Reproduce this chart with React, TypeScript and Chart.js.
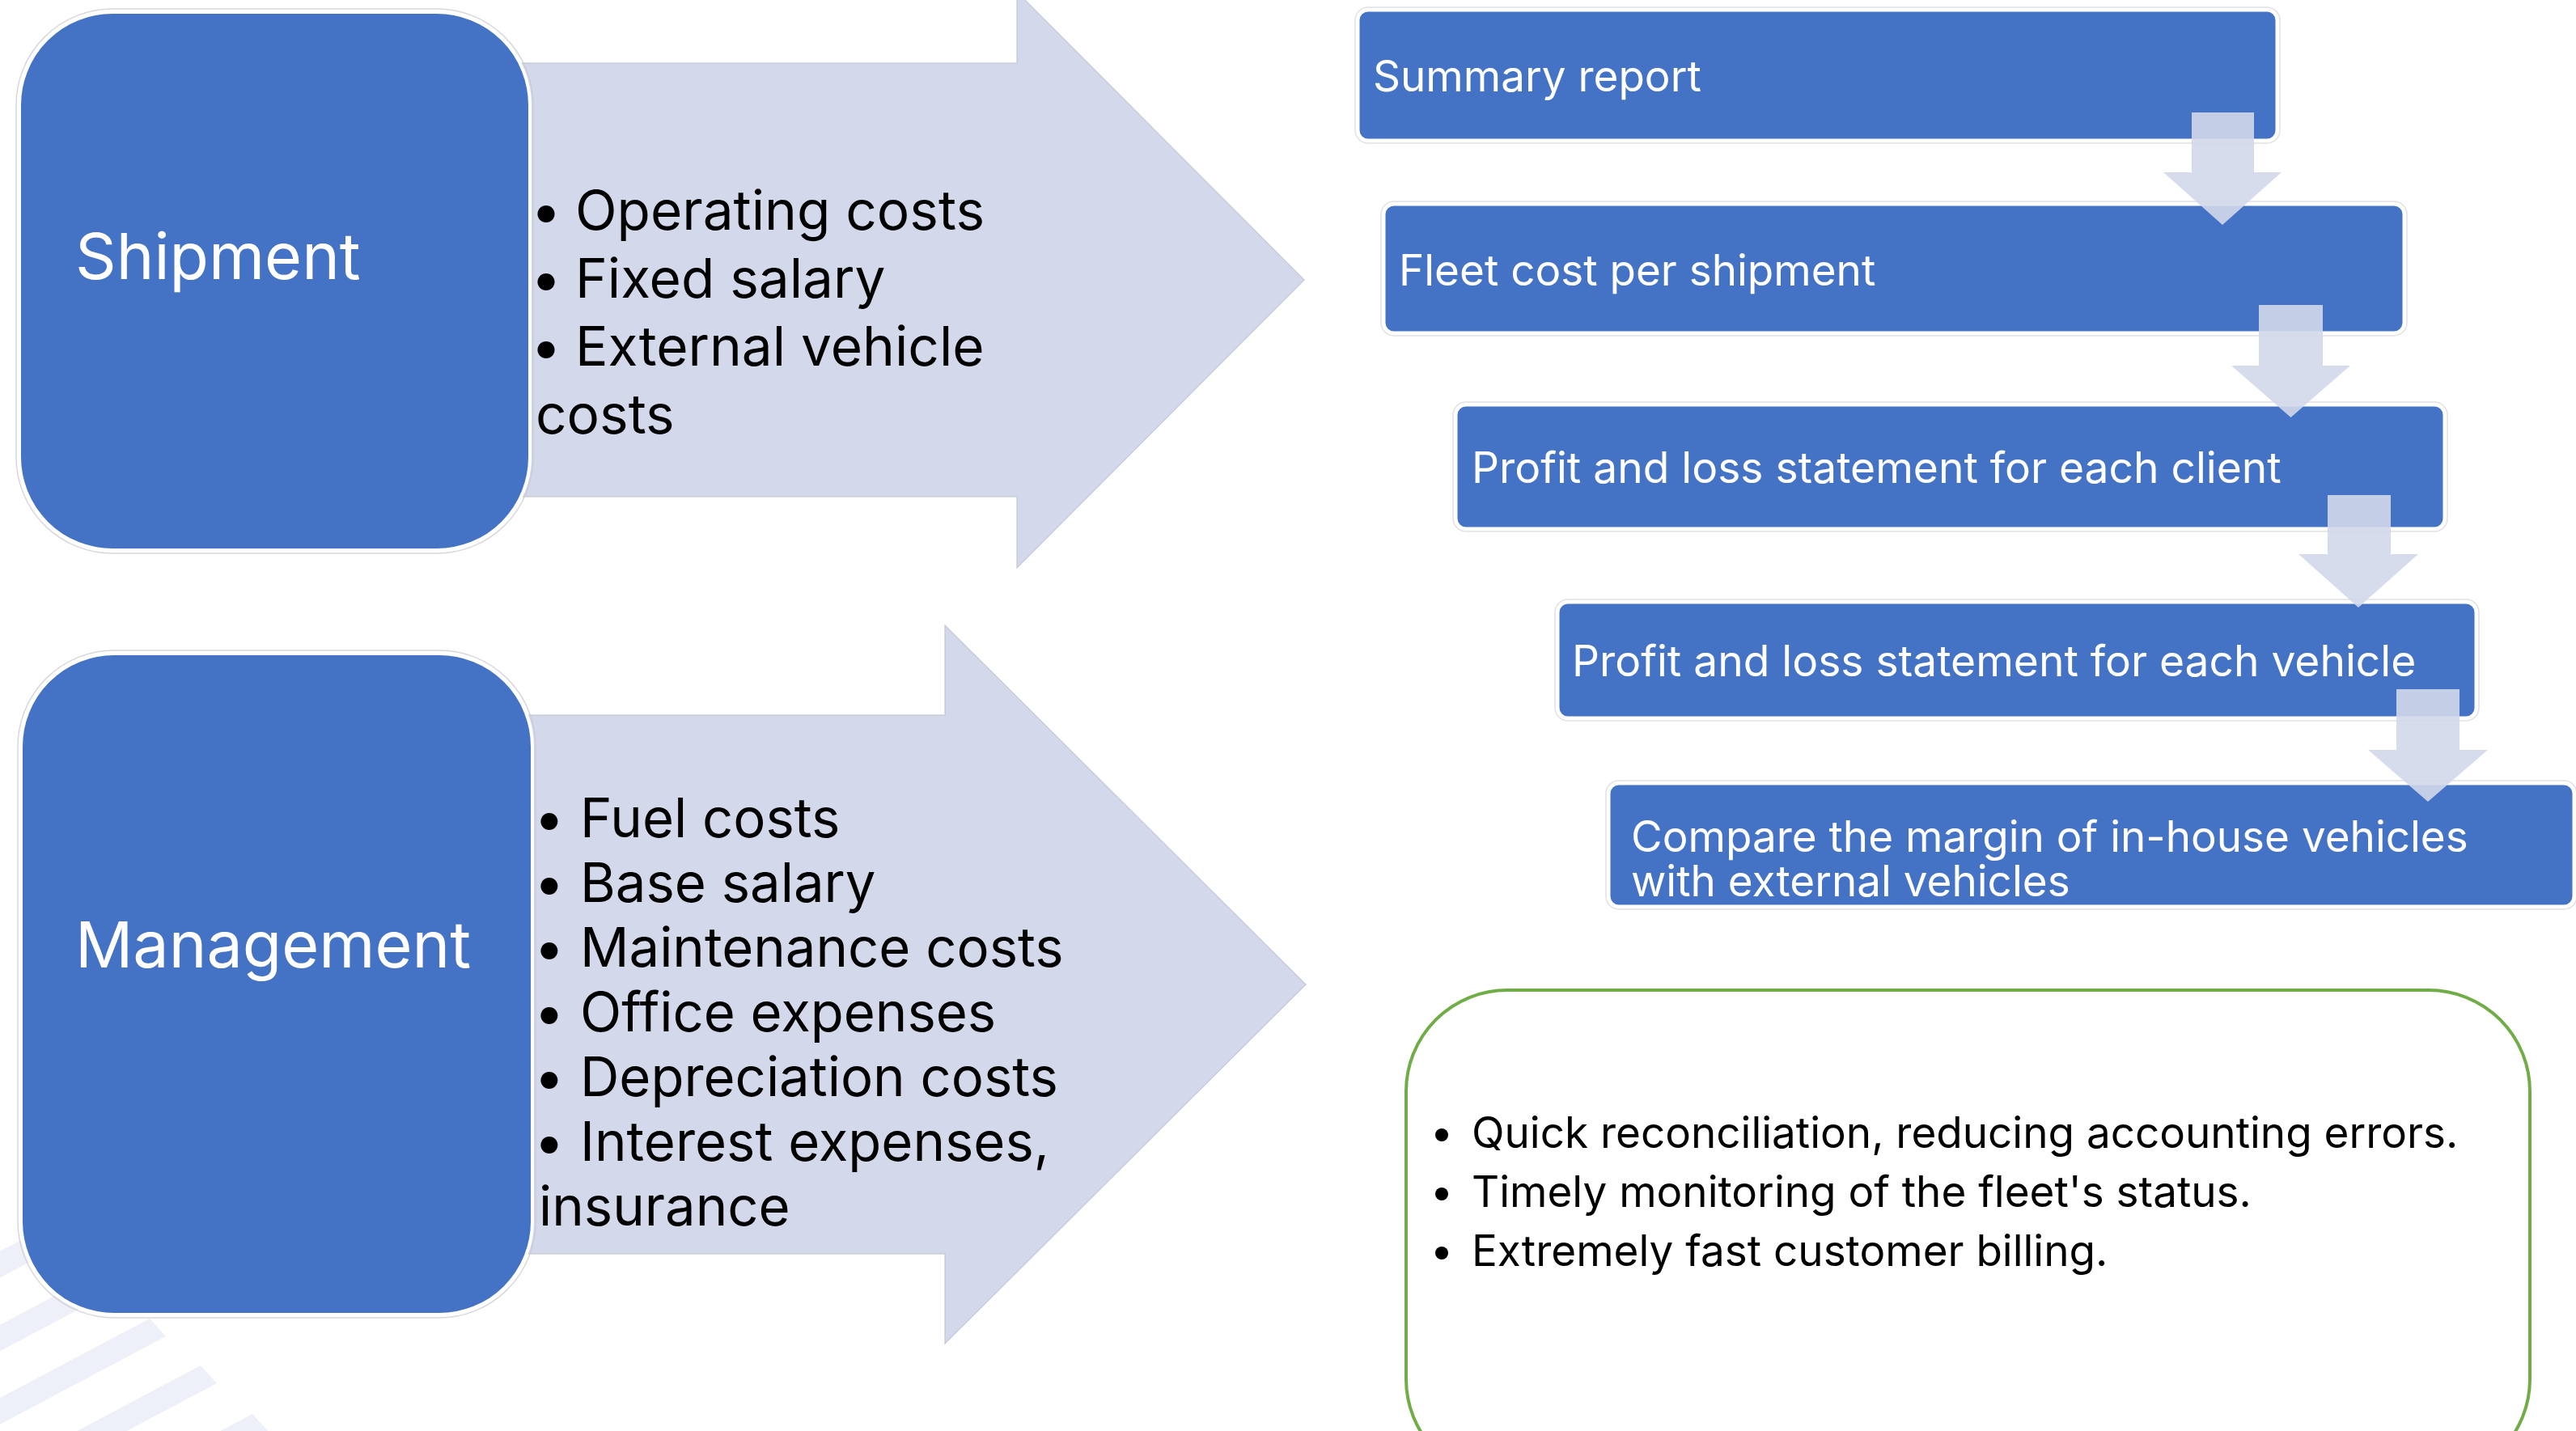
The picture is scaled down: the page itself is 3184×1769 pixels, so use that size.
import { useEffect, useRef } from "react";
import { Chart, registerables } from "chart.js";

Chart.register(...registerables);

const W = 3184;
const H = 1769;

// ---- content ----
const sourceLabels = ["Shipment", "Management"];
const shipmentCosts = ["Operating costs", "Fixed salary", "External vehicle costs"];
const managementCosts = [
  "Fuel costs",
  "Base salary",
  "Maintenance costs",
  "Office expenses",
  "Depreciation costs",
  "Interest expenses, insurance",
];
const reportSteps = [
  "Summary report",
  "Fleet cost per shipment",
  "Profit and loss statement for each client",
  "Profit and loss statement for each vehicle",
  "Compare the margin of in-house vehicles with external vehicles",
];
const benefits = [
  "Quick reconciliation, reducing accounting errors.",
  "Timely monitoring of the fleet's status.",
  "Extremely fast customer billing.",
];
const costGroups = [shipmentCosts, managementCosts];

// ---- layout (in reference pixel units, mapped through the chart scales) ----
const sourceBoxes = [
  { x0: 24, y0: 15, x1: 655, y1: 680, r: 115, lx: 93, ly: 321 },
  { x0: 26, y0: 808, x1: 658, y1: 1625, r: 115, lx: 93, ly: 1172 },
];
const costArrows = [
  { x0: 600, bt: 78, bb: 614, hx: 1257, ht: -10, hb: 702, tip: 1612, tx: 662, indent: 49, ty: 264, lh: 84, wrap: 600, fs: 67.5 },
  { x0: 600, bt: 884, bb: 1550, hx: 1168, ht: 773, hb: 1661, tip: 1614, tx: 666, indent: 51, ty: 1015, lh: 80, wrap: 660, fs: 67 },
];
const stepBoxes = [
  { x0: 1679, y0: 13, x1: 2814, y1: 173, tx: 1697, ty: 97, fs: 53 },
  { x0: 1711, y0: 253, x1: 2971, y1: 411, tx: 1729, ty: 337, fs: 53 },
  { x0: 1800, y0: 501, x1: 3021, y1: 653, tx: 1819, ty: 581, fs: 53.3 },
  { x0: 1926, y0: 745, x1: 3060, y1: 887, tx: 1943, ty: 820, fs: 53.3 },
  { x0: 1989, y0: 969, x1: 3181, y1: 1120, tx: 2016, ty: 1037, fs: 53 },
];
const downArrows = [
  { s0: 2709, s1: 2786, top: 139, hy: 213, h0: 2674, h1: 2820, tipY: 278 },
  { s0: 2792, s1: 2871, top: 377, hy: 452, h0: 2758, h1: 2905, tipY: 516 },
  { s0: 2877, s1: 2955, top: 612, hy: 685, h0: 2841, h1: 2989, tipY: 751 },
  { s0: 2962, s1: 3040, top: 852, hy: 927, h0: 2927, h1: 3075, tipY: 991 },
];
const benefitBox = { x0: 1738, y0: 1224, x1: 3127, y1: 1830, r: 125, bx: 1782, tx: 1819, ty: 1403, lh: 73 };
const stripes = [
  { x: 60, y: 1515 },
  { x: 122, y: 1573 },
  { x: 185, y: 1630 },
  { x: 248, y: 1688 },
  { x: 312, y: 1748 },
];

const BLUE = "#4472C4";
const LAVENDER = "#D3D8EB";
const FONT = "Inter, 'Noto Sans', sans-serif";

function wrapText(ctx: CanvasRenderingContext2D, text: string, maxW: number): string[] {
  const words = text.split(" ");
  const lines: string[] = [];
  let cur = "";
  for (const w of words) {
    const test = cur ? cur + " " + w : w;
    if (ctx.measureText(test).width > maxW && cur) {
      lines.push(cur);
      cur = w;
    } else cur = test;
  }
  if (cur) lines.push(cur);
  return lines;
}

const diagramPlugin = {
  id: "diagram",
  afterDraw(chart: any) {
    const ctx: CanvasRenderingContext2D = chart.ctx;
    const xs = chart.scales.x;
    const ys = chart.scales.y;
    const X = (v: number) => xs.getPixelForValue(v);
    const Y = (v: number) => ys.getPixelForValue(v);
    const S = Math.abs(X(1) - X(0));

    ctx.save();
    ctx.fillStyle = "#ffffff";
    ctx.fillRect(0, 0, chart.width, chart.height);

    // decorative stripes
    ctx.fillStyle = "#EEF0F9";
    for (const s of stripes) {
      const len = 700;
      const dx = -len;
      const dy = len * 0.53;
      ctx.beginPath();
      ctx.moveTo(X(s.x), Y(s.y));
      ctx.lineTo(X(s.x + 20), Y(s.y + 22));
      ctx.lineTo(X(s.x + 20 + dx), Y(s.y + 22 + dy));
      ctx.lineTo(X(s.x + dx), Y(s.y + dy));
      ctx.closePath();
      ctx.fill();
    }

    // big arrows with cost lists
    costArrows.forEach((a, i) => {
      const mid = (a.ht + a.hb) / 2;
      ctx.beginPath();
      ctx.moveTo(X(a.x0), Y(a.bt));
      ctx.lineTo(X(a.hx), Y(a.bt));
      ctx.lineTo(X(a.hx), Y(a.ht));
      ctx.lineTo(X(a.tip), Y(mid));
      ctx.lineTo(X(a.hx), Y(a.hb));
      ctx.lineTo(X(a.hx), Y(a.bb));
      ctx.lineTo(X(a.x0), Y(a.bb));
      ctx.closePath();
      ctx.fillStyle = LAVENDER;
      ctx.fill();
      ctx.strokeStyle = "rgba(190,194,210,0.7)";
      ctx.lineWidth = 1.5 * S;
      ctx.stroke();

      ctx.fillStyle = "#000000";
      ctx.font = `${a.fs * S}px ${FONT}`;
      ctx.textBaseline = "middle";
      ctx.textAlign = "left";
      let line = 0;
      for (const item of costGroups[i]) {
        const lines = wrapText(ctx, item, a.wrap * S);
        lines.forEach((l, k) => {
          if (k === 0) {
            ctx.fillText("\u2022", X(a.tx - 6), Y(a.ty + line * a.lh));
            ctx.fillText(l, X(a.tx + a.indent), Y(a.ty + line * a.lh));
          } else {
            ctx.fillText(l, X(a.tx), Y(a.ty + line * a.lh));
          }
          line++;
        });
      }
    });

    // source boxes
    sourceBoxes.forEach((b, i) => {
      ctx.beginPath();
      ctx.roundRect(X(b.x0) - 4, Y(b.y0) - 4, X(b.x1) - X(b.x0) + 8, Y(b.y1) - Y(b.y0) + 8, (b.r + 4) * S);
      ctx.strokeStyle = "rgba(200,200,205,0.7)";
      ctx.lineWidth = 1.5 * S;
      ctx.stroke();
      ctx.beginPath();
      ctx.roundRect(X(b.x0), Y(b.y0), X(b.x1) - X(b.x0), Y(b.y1) - Y(b.y0), b.r * S);
      ctx.fillStyle = BLUE;
      ctx.fill();
      ctx.strokeStyle = "#ffffff";
      ctx.lineWidth = 4 * S;
      ctx.stroke();
      ctx.fillStyle = "#ffffff";
      ctx.font = `${79 * S}px ${FONT}`;
      ctx.textBaseline = "middle";
      ctx.fillText(sourceLabels[i], X(b.lx), Y(b.ly));
    });

    // report step boxes
    stepBoxes.forEach((b, i) => {
      ctx.beginPath();
      ctx.roundRect(X(b.x0) - 4, Y(b.y0) - 4, X(b.x1) - X(b.x0) + 8, Y(b.y1) - Y(b.y0) + 8, 16 * S);
      ctx.strokeStyle = "rgba(205,205,210,0.6)";
      ctx.lineWidth = 1.5 * S;
      ctx.stroke();
      ctx.beginPath();
      ctx.roundRect(X(b.x0), Y(b.y0), X(b.x1) - X(b.x0), Y(b.y1) - Y(b.y0), 12 * S);
      ctx.fillStyle = BLUE;
      ctx.fill();
      ctx.strokeStyle = "#ffffff";
      ctx.lineWidth = 3 * S;
      ctx.stroke();
      ctx.fillStyle = "#ffffff";
      ctx.font = `${b.fs * S}px ${FONT}`;
      ctx.textBaseline = "middle";
      const lines = wrapText(ctx, reportSteps[i], (b.x1 - b.tx - 40) * S);
      lines.forEach((l, k) => ctx.fillText(l, X(b.tx), Y(b.ty + k * 55)));
    });

    // down arrows between steps
    for (const d of downArrows) {
      const cx = (d.h0 + d.h1) / 2;
      ctx.beginPath();
      ctx.moveTo(X(d.s0), Y(d.top));
      ctx.lineTo(X(d.s1), Y(d.top));
      ctx.lineTo(X(d.s1), Y(d.hy));
      ctx.lineTo(X(d.h1), Y(d.hy));
      ctx.lineTo(X(cx), Y(d.tipY));
      ctx.lineTo(X(d.h0), Y(d.hy));
      ctx.lineTo(X(d.s0), Y(d.hy));
      ctx.closePath();
      ctx.fillStyle = "rgba(211,216,235,0.9)";
      ctx.fill();
    }

    // benefits box
    const g = benefitBox;
    ctx.beginPath();
    ctx.roundRect(X(g.x0), Y(g.y0), X(g.x1) - X(g.x0), Y(g.y1) - Y(g.y0), g.r * S);
    ctx.fillStyle = "#ffffff";
    ctx.fill();
    ctx.strokeStyle = "#70AD47";
    ctx.lineWidth = 4 * S;
    ctx.stroke();
    ctx.fillStyle = "#000000";
    ctx.font = `${53 * S}px ${FONT}`;
    ctx.textBaseline = "middle";
    benefits.forEach((t, k) => {
      ctx.beginPath();
      ctx.arc(X(g.bx), Y(g.ty + k * g.lh), 8 * S, 0, Math.PI * 2);
      ctx.fill();
      ctx.fillText(t, X(g.tx), Y(g.ty + k * g.lh));
    });

    ctx.restore();
  },
};

export default function App() {
  const ref = useRef<HTMLCanvasElement | null>(null);

  useEffect(() => {
    document.body.style.margin = "0";
    document.body.style.overflow = "hidden";
    if (!ref.current) return;
    const chart = new Chart(ref.current, {
      type: "scatter",
      data: { datasets: [{ data: [], pointRadius: 0 }] },
      options: {
        animation: false,
        responsive: false,
        events: [],
        layout: { padding: 0 },
        plugins: { legend: { display: false }, tooltip: { enabled: false } },
        scales: {
          x: { type: "linear", min: 0, max: W, display: false },
          y: { type: "linear", min: 0, max: H, reverse: true, display: false },
        },
      },
      plugins: [diagramPlugin],
    });
    if ((document as any).fonts && (document as any).fonts.load) {
      Promise.all([(document as any).fonts.load("68px Inter")])
        .then(() => chart.draw())
        .catch(() => {});
    }
    return () => chart.destroy();
  }, []);

  return (
    <div style={{ width: W, height: H }}>
      <canvas ref={ref} width={W} height={H} style={{ display: "block", width: W, height: H }} />
    </div>
  );
}
